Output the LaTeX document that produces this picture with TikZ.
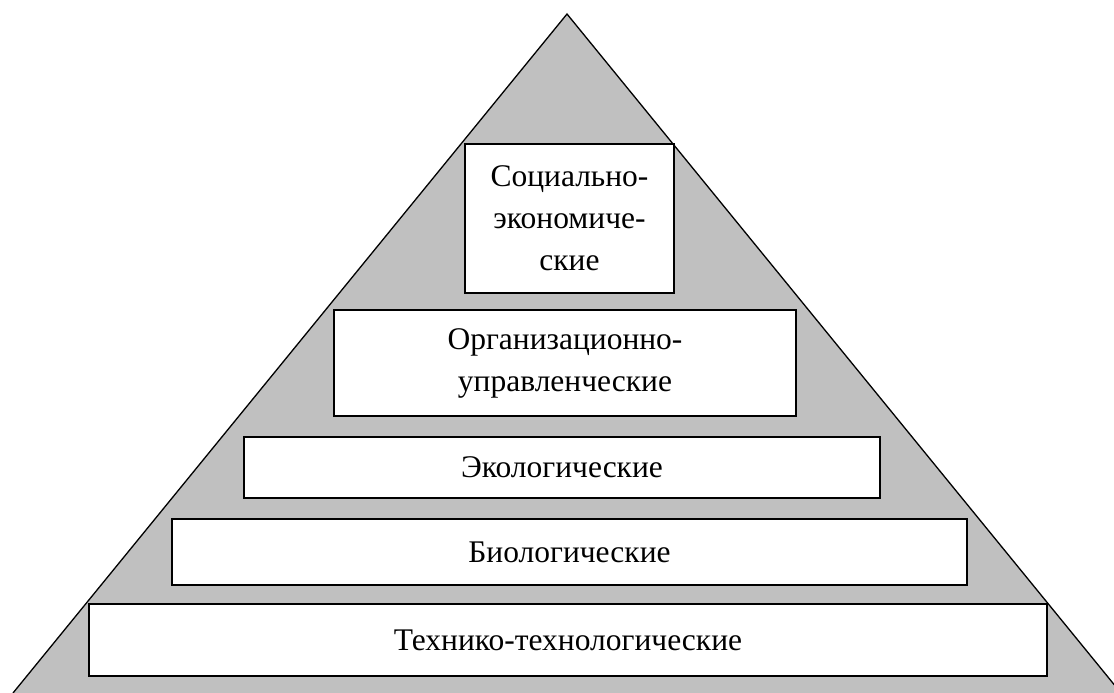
\documentclass[tikz,border=0pt]{standalone}
\usepackage{fontspec}
\setmainfont{Liberation Serif}
\definecolor{pyrgray}{HTML}{C0C0C0}
\tikzset{
  level/.style={draw=black, fill=white, line width=1.3pt, inner sep=0pt, align=center,
    font=\fontsize{31.5}{42}\selectfont},
}
\begin{document}
\begin{tikzpicture}[x=1pt,y=-1pt]
\useasboundingbox (0,0) rectangle (1114,693);
\clip (0,0) rectangle (1114,693);
\coordinate (apex) at (567,14);
\coordinate (bl) at (13,693);
\coordinate (br) at (1121,693);
\fill[pyrgray] (bl) -- (apex) -- (br) -- cycle;
\draw[line width=1.3pt] (bl) -- (apex) -- (br);
\node[level, minimum width=209pt, minimum height=149pt] (soc) at (569.5,218.5) {Социально-\\экономиче-\\ские};
\node[level, minimum width=462pt, minimum height=106pt] (org) at (565,363) {Организационно-\\управленческие};
\node[level, minimum width=636pt, minimum height=61pt] (eco) at (562,467.5) {Экологические};
\node[level, minimum width=795pt, minimum height=66pt] (bio) at (569.5,552) {Биологические};
\node[level, minimum width=958pt, minimum height=72pt] (tech) at (568,640) {Технико-технологические};
\end{tikzpicture}
\end{document}
